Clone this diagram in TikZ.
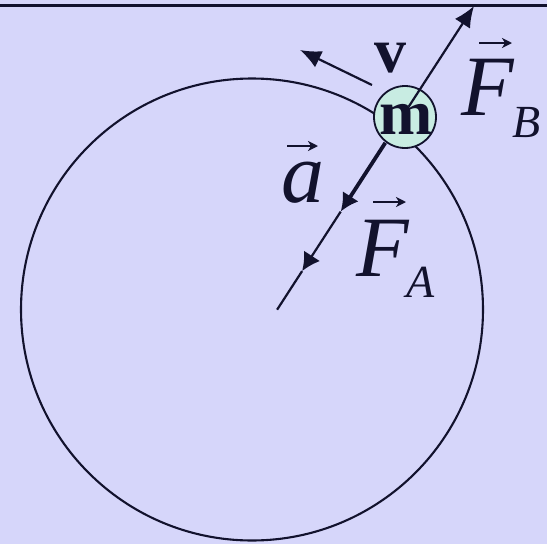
\documentclass[tikz,border=0pt]{standalone}
\usepackage{fontspec}
\setmainfont{Liberation Serif}
\usetikzlibrary{arrows.meta}
\definecolor{bg}{RGB}{214,214,250}
\definecolor{ink}{RGB}{18,18,45}
\definecolor{massfill}{RGB}{200,236,226}
\begin{document}
\begin{tikzpicture}[x=1pt,y=-1pt,
  every node/.style={inner sep=0pt, outer sep=0pt},
  wire/.style={draw=ink, line width=2.2pt},
  bigtip/.style={-{Latex[length=21pt,width=18pt]}},
  midtip/.style={-{Latex[length=18pt,width=19pt]}},
  vecarr/.style={draw=ink, line width=1.8pt, -{Stealth[length=10pt,width=10pt,inset=3pt]}},
  lbl/.style={anchor=base west, text=ink, font=\fontsize{86}{86}\selectfont\itshape},
  mass/.style={circle, draw=ink, line width=1.8pt, fill=massfill, minimum size=62pt}]
\useasboundingbox (0,0) rectangle (547,544);
\fill[bg] (0,0) rectangle (547,544);
\coordinate (tl) at (0,5.5);
\coordinate (tr) at (547,5.5);
\draw[ink, line width=2.5pt] (tl) -- (tr);
\coordinate (O) at (252,309.5);
\draw[ink, line width=2.1pt] (O) circle[radius=231pt];
% mass body
\node[mass] (m) at (405,117) {};
% radial line points
\coordinate (ptop) at (474,6);
\coordinate (pin) at (408.7,106.7);
\coordinate (pout) at (385.3,142.8);
\coordinate (pa1) at (340.7,211.6);
\coordinate (pa2) at (302.1,271.1);
\coordinate (pend) at (277.1,309.7);
\draw[wire, bigtip] (pin) -- (ptop);
\draw[ink, line width=3.8pt, midtip] (pout) -- (pa1);
\draw[wire, midtip] (pa1) -- (pa2);
\draw[wire] (pa2) -- (pend);
% velocity
\coordinate (vs) at (372,85);
\coordinate (ve) at (300,50);
\draw[wire, bigtip] (vs) -- (ve);
% labels
\node[font=\fontsize{64}{64}\selectfont\bfseries, text=ink] (mlabel) at (406,119.5) {m};
\node[anchor=base west, font=\fontsize{64}{64}\selectfont\bfseries, text=ink] (v) at (374,72) {v};
\node[lbl] (FB) at (461,115) {F\hspace{-1pt}\raisebox{-22pt}{\fontsize{46}{46}\selectfont B}};
\node[lbl] (FA) at (356,276) {F\hspace{-2pt}\raisebox{-21pt}{\fontsize{46}{46}\selectfont A}};
\node[lbl] (acc) at (281,202) {a};
% vector arrows over the letters
\draw[vecarr] ([shift={(18,-72)}]FB.base west) -- ++(33,0);
\draw[vecarr] ([shift={(17,-74)}]FA.base west) -- ++(33,0);
\draw[vecarr] ([shift={(6,-56)}]acc.base west) -- ++(31,0);
\end{tikzpicture}
\end{document}
